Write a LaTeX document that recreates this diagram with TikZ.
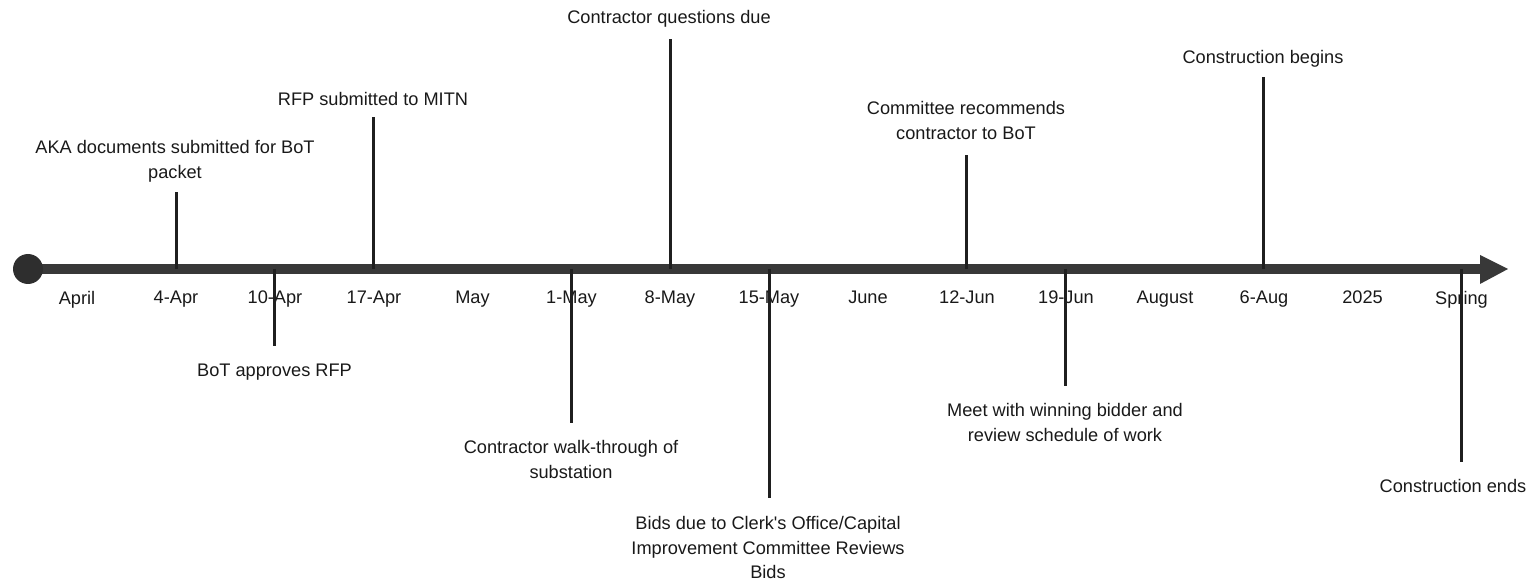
\documentclass[tikz,border=0pt]{standalone}
\usepackage{fontspec}
\setmainfont{Liberation Sans}
\begin{document}
\begin{tikzpicture}[x=1pt,y=-1pt,
  lbl/.style={font=\fontsize{18.2}{24.5}\selectfont, align=center, inner sep=0pt, anchor=north, text=black!90},
  axlbl/.style={font=\fontsize{18.2}{24.5}\selectfont, inner sep=0pt, anchor=north, text=black!90},
  evline/.style={line width=3pt, draw=black!88},
  axisline/.style={line width=10pt, draw=black!78}]
\useasboundingbox (0,0) rectangle (1535,585);

% axis
\coordinate (start) at (28,269);
\coordinate (headbase) at (1481,269);
\coordinate (tip) at (1508,269);
\draw[axisline] (start) -- (headbase);
\fill[black!78] (1480,255) -- (tip) -- (1480,284) -- cycle;
\fill[black!82] (start) circle (15);

% axis labels
\node[axlbl] (l0)  at (77,291)    {April};
\node[axlbl] (l1)  at (176,291)   {4-Apr};
\node[axlbl] (l2)  at (275,291)   {10-Apr};
\node[axlbl] (l3)  at (374,291)   {17-Apr};
\node[axlbl] (l4)  at (472.5,291) {May};
\node[axlbl] (l5)  at (571.5,291) {1-May};
\node[axlbl] (l6)  at (670,291)   {8-May};
\node[axlbl] (l7)  at (769,291)   {15-May};
\node[axlbl] (l8)  at (868,291)   {June};
\node[axlbl] (l9)  at (967,291)   {12-Jun};
\node[axlbl] (l10) at (1066,291)  {19-Jun};
\node[axlbl] (l11) at (1165,291)  {August};
\node[axlbl] (l12) at (1264,291)  {6-Aug};
\node[axlbl] (l13) at (1362.5,291){2025};
\node[axlbl] (l14) at (1461.5,291){Spring};

% event labels
\node[lbl] (e1)  at (175,140.5)  {AKA documents submitted for BoT\\packet};
\node[lbl] (e2)  at (274.5,363.5){BoT approves RFP};
\node[lbl] (e3)  at (373,92)     {RFP submitted to MITN};
\node[lbl] (e4)  at (571,440.5)  {Contractor walk-through of\\substation};
\node[lbl] (e5)  at (669,10.5)   {Contractor questions due};
\node[lbl] (e6)  at (768,516.5)  {Bids due to Clerk\textquotesingle s Office/Capital\\Improvement Committee Reviews\\Bids};
\node[lbl] (e7)  at (966,101.5)  {Committee recommends\\contractor to BoT};
\node[lbl] (e8)  at (1065,403.5) {Meet with winning bidder and\\review schedule of work};
\node[lbl] (e9)  at (1263,50.5)  {Construction begins};
\node[lbl] (e10) at (1453,479.5) {Construction ends};

% event line end points
\coordinate (a1)  at (176,269);    \coordinate (t1)  at (176,192);
\coordinate (a2)  at (274.5,269);  \coordinate (t2)  at (274.5,346);
\coordinate (a3)  at (373.5,269);  \coordinate (t3)  at (373.5,117);
\coordinate (a4)  at (571.5,269);  \coordinate (t4)  at (571.5,423);
\coordinate (a5)  at (670,269);    \coordinate (t5)  at (670,39);
\coordinate (a6)  at (769,269);    \coordinate (t6)  at (769,498);
\coordinate (a7)  at (966.5,269);  \coordinate (t7)  at (966.5,155);
\coordinate (a8)  at (1065.5,269); \coordinate (t8)  at (1065.5,386);
\coordinate (a9)  at (1263.5,269); \coordinate (t9)  at (1263.5,77);
\coordinate (a10) at (1461,269);   \coordinate (t10) at (1461,462);

\draw[evline] (a1) -- (t1);
\draw[evline] (a2) -- (t2);
\draw[evline] (a3) -- (t3);
\draw[evline] (a4) -- (t4);
\draw[evline] (a5) -- (t5);
\draw[evline] (a6) -- (t6);
\draw[evline] (a7) -- (t7);
\draw[evline] (a8) -- (t8);
\draw[evline] (a9) -- (t9);
\draw[evline] (a10) -- (t10);
\end{tikzpicture}
\end{document}
